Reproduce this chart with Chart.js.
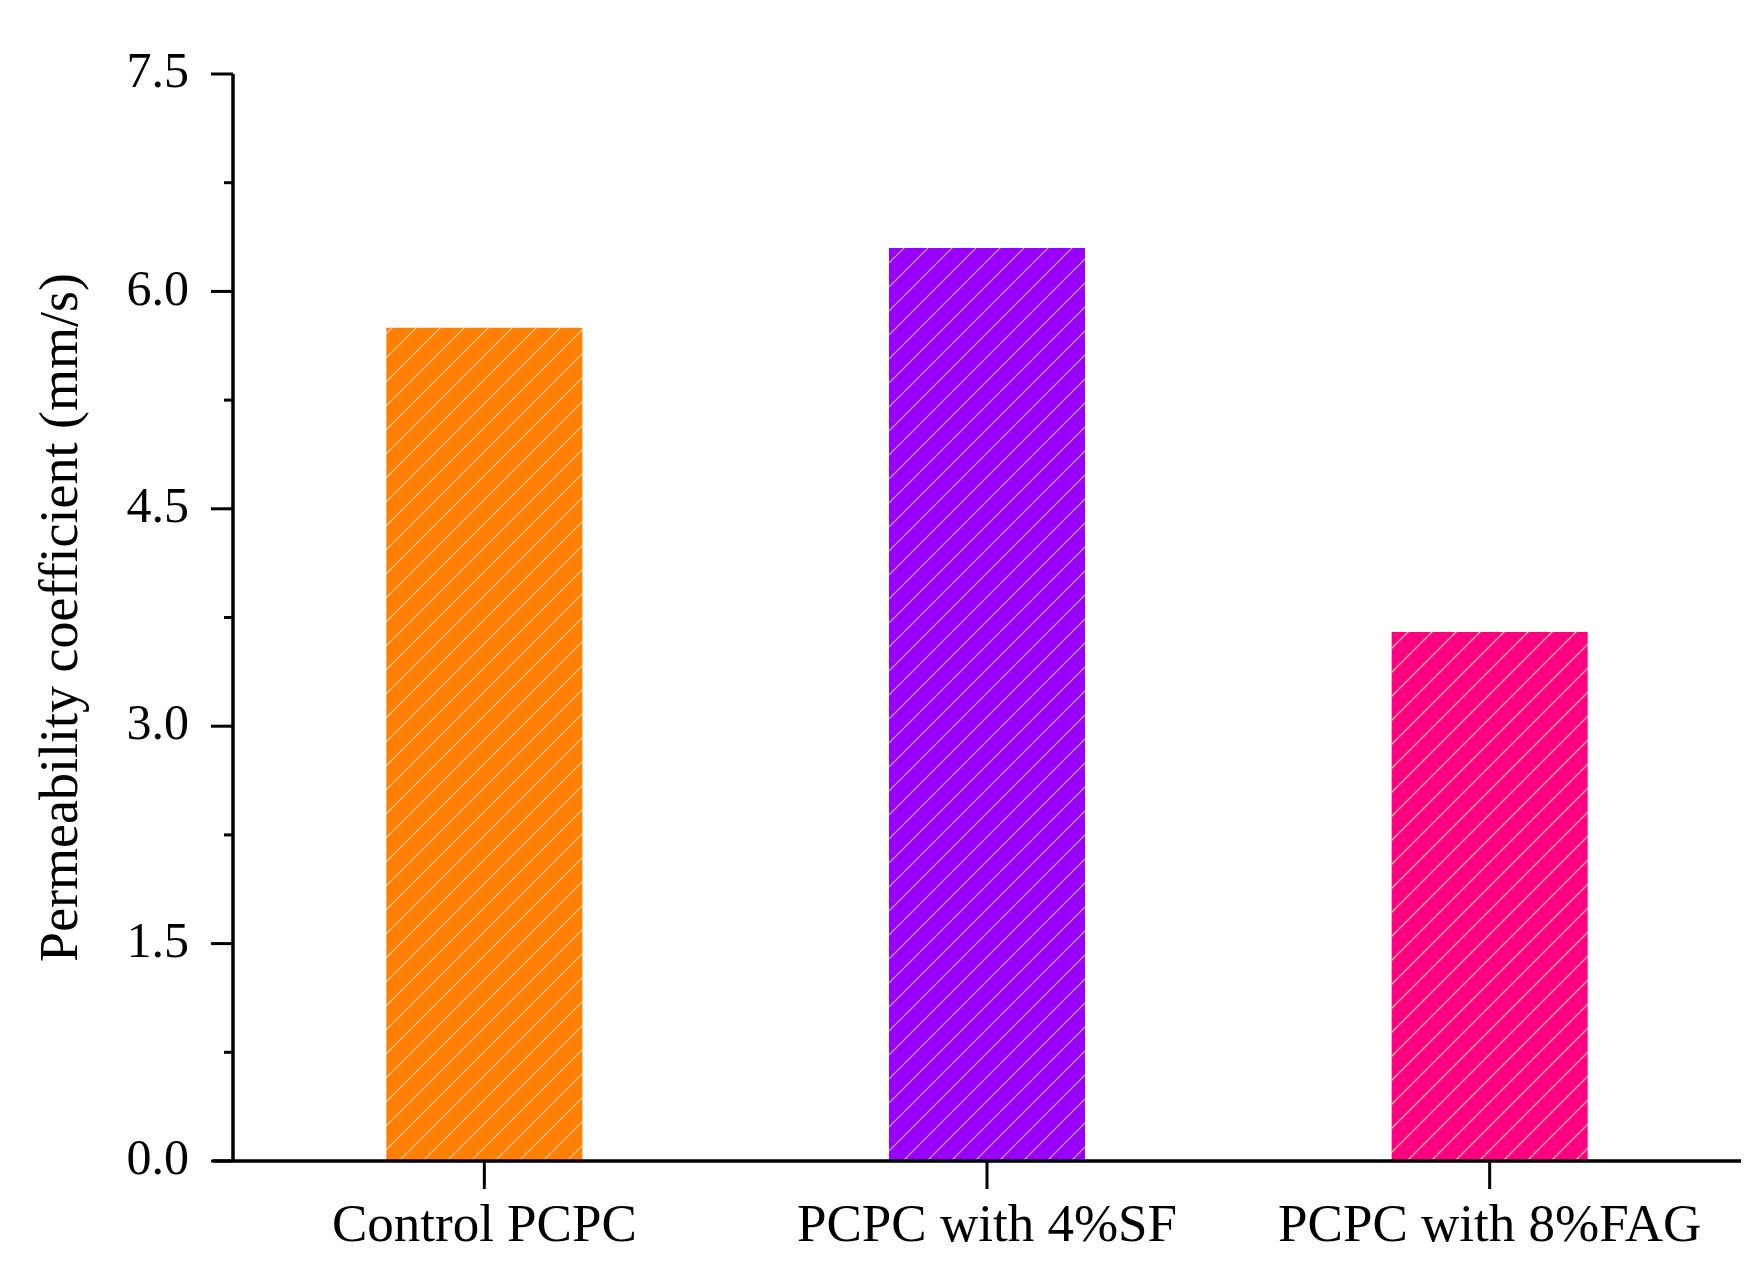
<!DOCTYPE html>
<html><head><meta charset="utf-8">
<script src="https://cdn.jsdelivr.net/npm/chart.js@4"></script>
<style>html,body{margin:0;padding:0;background:#fff}#w{width:1758px;height:1266px}</style>
</head><body><div id="w"><canvas id="c"></canvas></div>
<script>
const categories = ["Control PCPC", "PCPC with 4%SF", "PCPC with 8%FAG"];
const values = [5.75, 6.30, 3.65];
const barColors = ["#FF8000", "#9900FF", "#FF0080"];
const hatchColors = ["rgba(255,220,200,0.75)", "rgba(200,220,120,0.7)", "rgba(255,230,180,0.8)"];
const yTicks = [0, 1.5, 3.0, 4.5, 6.0, 7.5];

function hatch(bg, line) {
  const s = 24, c = document.createElement('canvas');
  c.width = s; c.height = s;
  const g = c.getContext('2d');
  g.fillStyle = bg; g.fillRect(0, 0, s, s);
  g.strokeStyle = line; g.lineWidth = 1.3;
  g.beginPath();
  g.moveTo(0, s); g.lineTo(s, 0);
  g.moveTo(-s/2, s/2); g.lineTo(s/2, -s/2);
  g.moveTo(s/2, s*1.5); g.lineTo(s*1.5, s/2);
  g.stroke();
  return g.createPattern(c, 'repeat');
}
const font = "'Liberation Serif', 'Times New Roman', serif";

const axesPlugin = {
  id: 'axesPlugin',
  afterDraw(chart) {
    const ctx = chart.ctx, a = chart.chartArea, y = chart.scales.y, x = chart.scales.x;
    ctx.save();
    ctx.strokeStyle = '#000'; ctx.lineCap = 'butt';
    ctx.lineWidth = 3.5;
    ctx.beginPath();
    ctx.moveTo(a.left, a.top); ctx.lineTo(a.left, a.bottom);
    ctx.moveTo(a.left - 20, a.bottom); ctx.lineTo(a.right, a.bottom);
    ctx.stroke();
    ctx.lineWidth = 3;
    for (let v = 0; v <= 7.5001; v += 0.75) {
      const p = y.getPixelForValue(v);
      const major = Math.abs(v / 1.5 - Math.round(v / 1.5)) < 1e-6;
      ctx.beginPath();
      ctx.moveTo(a.left, p); ctx.lineTo(a.left - (major ? 22 : 9), p);
      ctx.stroke();
    }
    categories.forEach((c, i) => {
      const p = x.getPixelForValue(i);
      ctx.beginPath(); ctx.moveTo(p, a.bottom); ctx.lineTo(p, a.bottom + 28); ctx.stroke();
    });
    ctx.restore();
  }
};

new Chart(document.getElementById('c'), {
  type: 'bar',
  data: {
    labels: categories,
    datasets: [{
      data: values,
      backgroundColor: barColors.map((c, i) => hatch(c, hatchColors[i])),
      borderWidth: 0,
      barPercentage: 0.39,
      categoryPercentage: 1
    }]
  },
  options: {
    responsive: true, maintainAspectRatio: false, animation: false,
    layout: { padding: { top: 48, right: 17, bottom: 0, left: 0 } },
    plugins: { legend: { display: false }, tooltip: { enabled: false } },
    scales: {
      x: {
        afterFit(s) { s.height = 105; },
        grid: { display: false, drawTicks: false },
        border: { display: false },
        ticks: { color: '#000', font: { family: font, size: 53 }, padding: 34 }
      },
      y: {
        min: 0, max: 7.5,
        afterFit(s) { s.width = 233; },
        afterBuildTicks(s) { s.ticks = yTicks.map(v => ({ value: v })); },
        grid: { display: false, drawTicks: false },
        border: { display: false },
        ticks: { color: '#000', font: { family: font, size: 50 }, padding: 44,
                 callback: v => Number(v).toFixed(1) },
        title: { display: true, text: 'Permeability coefficient (mm/s)', color: '#000',
                 font: { family: font, size: 54 }, padding: { top: 30, bottom: 0 } }
      }
    }
  },
  plugins: [axesPlugin]
});
</script></body></html>
